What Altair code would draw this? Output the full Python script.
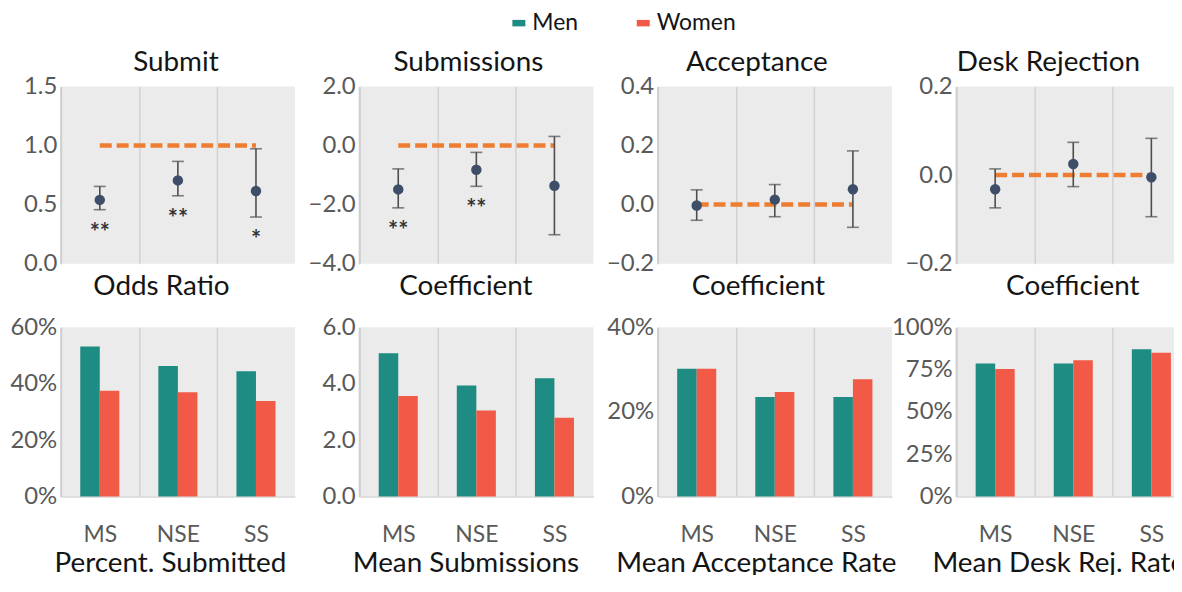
import altair as alt
import pandas as pd

# ---------------- data ----------------
cats = ["MS", "NSE", "SS"]
groups = ["Men", "Women"]

submit_est = [0.54, 0.705, 0.615]
submit_lo = [0.457, 0.575, 0.395]
submit_hi = [0.654, 0.866, 0.973]
submit_stars = ["**", "**", "*"]

subs_est = [-1.485, -0.82, -1.36]
subs_lo = [-2.11, -1.38, -3.02]
subs_hi = [-0.79, -0.23, 0.31]
subs_stars = ["**", "**", ""]

acc_est = [-0.003, 0.017, 0.052]
acc_lo = [-0.053, -0.041, -0.077]
acc_hi = [0.050, 0.068, 0.182]
acc_stars = ["", "", ""]

desk_est = [-0.032, 0.025, -0.005]
desk_lo = [-0.074, -0.026, -0.094]
desk_hi = [0.014, 0.074, 0.083]
desk_stars = ["", "", ""]

pct_sub_men = [0.532, 0.463, 0.444]
pct_sub_women = [0.375, 0.370, 0.339]
mean_sub_men = [5.08, 3.94, 4.19]
mean_sub_women = [3.56, 3.05, 2.79]
acc_rate_men = [0.302, 0.235, 0.235]
acc_rate_women = [0.302, 0.247, 0.277]
desk_rate_men = [0.786, 0.786, 0.870]
desk_rate_women = [0.754, 0.805, 0.849]

# ---------------- style ----------------
FONT = "Lato"
TEAL = "#1e8c82"
RED = "#f05a46"
ORANGE = "#ee7d31"
POINT = "#3e4e68"
ERR = "#4d4d4d"
BG = "#ebebeb"
GRID = "#d2d2d2"
LABEL = "#595959"
TITLE = "#141414"
W = 235.5
HT = 178
HB = 170

xscale = alt.Scale(domain=cats, paddingInner=0, paddingOuter=0)
grid_op = {"condition": {"test": "datum.value === 'SS'", "value": 0}, "value": 1}


def x_axis(title, labels, shift):
    return alt.Axis(
        title=title, labels=labels, ticks=False, domain=labels,
        domainColor="#d6d6d6", domainWidth=1.5,
        grid=True, tickBand="extent", gridColor=GRID, gridWidth=1.5,
        gridOpacity=grid_op,
        labelFont=FONT, labelFontSize=23, labelColor=LABEL, labelPadding=27,
        titleFont=FONT, titleFontSize=28, titleFontWeight="normal",
        titleColor=TITLE, titlePadding=9 if not labels else 3,
        titleX=W / 2 + shift,
        labelAngle=0,
    )


def y_axis(ticks, fmt):
    return alt.Axis(
        values=ticks, format=fmt, title=None, grid=False, ticks=False,
        domain=True, domainColor="#cfcfcf", domainWidth=2,
        labelFont=FONT, labelFontSize=24, labelColor=LABEL, labelPadding=4,
    )


def top_panel(title, tshift, xtitle, xshift, est, lo, hi, stars, ref, dom, ticks):
    df = pd.DataFrame({"cat": cats, "est": est, "lo": lo, "hi": hi,
                       "star": stars, "ref": [ref] * 3})
    ys = alt.Scale(domain=dom, nice=False, zero=False)
    ya = y_axis(ticks, ".1f")
    xe = alt.X("cat:N", scale=xscale, axis=x_axis(xtitle, False, xshift))
    base = alt.Chart(df)
    line = base.mark_line(color=ORANGE, strokeDash=[12, 5], strokeWidth=4.5).encode(
        x=xe, y=alt.Y("ref:Q", scale=ys, axis=ya))
    rule = base.mark_rule(color=ERR, strokeWidth=1.6).encode(
        x=xe, y=alt.Y("lo:Q", scale=ys, axis=ya), y2="hi:Q")
    cap_lo = base.mark_tick(color=ERR, size=12, thickness=1.6).encode(
        x=xe, y=alt.Y("lo:Q", scale=ys, axis=ya))
    cap_hi = base.mark_tick(color=ERR, size=12, thickness=1.6).encode(
        x=xe, y=alt.Y("hi:Q", scale=ys, axis=ya))
    pts = base.mark_circle(size=110, color=POINT, opacity=1).encode(
        x=xe, y=alt.Y("est:Q", scale=ys, axis=ya))
    txt = base.mark_text(dy=24, fontSize=24, color="#333333", font=FONT,
                         fontWeight="bold").encode(
        x=xe, y=alt.Y("lo:Q", scale=ys, axis=ya), text="star:N")
    return alt.layer(line, rule, cap_lo, cap_hi, pts, txt).properties(
        width=W, height=HT,
        title=alt.TitleParams(title, font=FONT, fontSize=28, fontWeight="normal",
                              color=TITLE, offset=-24, baseline="alphabetic",
                              anchor="middle", dx=tshift),
    )


legend = alt.Legend(
    orient="none", legendX=449, legendY=-75.5, direction="horizontal", title=None,
    symbolType="M-1,-0.5L1,-0.5L1,0.5L-1,0.5Z", symbolSize=170,
    symbolStrokeWidth=0, labelFont=FONT, labelFontSize=23, labelColor=TITLE,
    columnPadding=54, labelOffset=2,
)


def bottom_panel(xtitle, xshift, men, women, dom, ticks, fmt, show_legend=False):
    df = pd.DataFrame({"cat": cats * 2, "group": ["Men"] * 3 + ["Women"] * 3,
                       "val": men + women})
    return alt.Chart(df).mark_bar().encode(
        x=alt.X("cat:N", scale=xscale, axis=x_axis(xtitle, True, xshift)),
        xOffset=alt.XOffset("group:N", scale=alt.Scale(domain=groups, paddingInner=0,
                                                       paddingOuter=1)),
        y=alt.Y("val:Q", scale=alt.Scale(domain=dom, nice=False, zero=True),
                axis=y_axis(ticks, fmt)),
        color=alt.Color("group:N", scale=alt.Scale(domain=groups, range=[TEAL, RED]),
                        legend=legend if show_legend else None),
    ).properties(width=W, height=HB)


charts = [
    top_panel("Submit", -2, "Odds Ratio", -17, submit_est, submit_lo, submit_hi,
              submit_stars, 1.0, [0, 1.5], [0, 0.5, 1.0, 1.5]),
    top_panel("Submissions", -8, "Coefficient", -11, subs_est, subs_lo, subs_hi,
              subs_stars, 0.0, [-4, 2], [-4, -2, 0, 2]),
    top_panel("Acceptance", -18, "Coefficient", -17, acc_est, acc_lo, acc_hi,
              acc_stars, 0.0, [-0.2, 0.4], [-0.2, 0, 0.2, 0.4]),
    top_panel("Desk Rejection", -25, "Coefficient", -1, desk_est, desk_lo, desk_hi,
              desk_stars, 0.0, [-0.2, 0.2], [-0.2, 0, 0.2]),
    bottom_panel("Percent. Submitted", -8, pct_sub_men, pct_sub_women, [0, 0.6],
                 [0, 0.2, 0.4, 0.6], ".0%", show_legend=True),
    bottom_panel("Mean Submissions", -11, mean_sub_men, mean_sub_women, [0, 6],
                 [0, 2, 4, 6], ".1f"),
    bottom_panel("Mean Acceptance Rate", -19, acc_rate_men, acc_rate_women, [0, 0.4],
                 [0, 0.2, 0.4], ".0%"),
    bottom_panel("Mean Desk Rej. Rate", -15, desk_rate_men, desk_rate_women, [0, 1],
                 [0, 0.25, 0.5, 0.75, 1.0], ".0%"),
]

chart = alt.concat(*charts, columns=4, spacing=64, bounds="flush").resolve_scale(
    y="independent", color="shared"
).properties(
    padding={"left": 1, "top": 1.5, "right": -17, "bottom": -4},
    background="white",
).configure_view(
    fill=BG, stroke=None
)

chart.save("out.html", embed_options={"renderer": "svg", "actions": False})
